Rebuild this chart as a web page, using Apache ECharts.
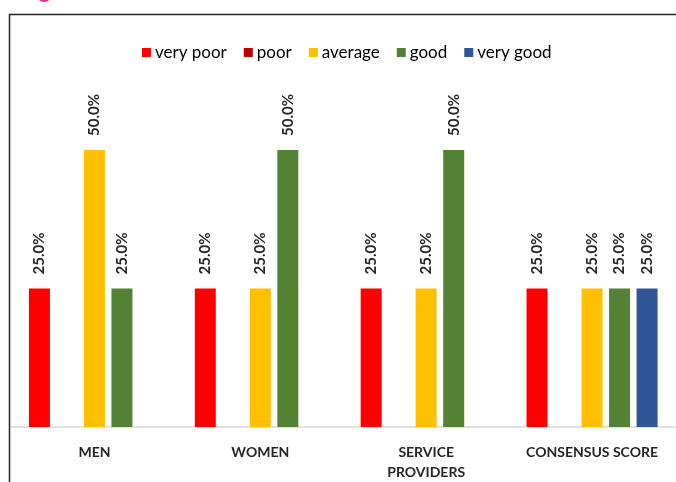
<!DOCTYPE html>
<html>
<head>
<meta charset="utf-8">
<script src="https://cdn.jsdelivr.net/npm/echarts@6/dist/echarts.min.js"></script>
<style>
html,body{margin:0;padding:0;background:#fff;}
#c{width:676px;height:482px;}
</style>
</head>
<body>
<div id="c"></div>
<script>
var categories = ['MEN', 'WOMEN', 'SERVICE\nPROVIDERS', 'CONSENSUS SCORE'];
var seriesNames = ['very poor', 'poor', 'average', 'good', 'very good'];
var veryPoor = [0.25, 0.25, 0.25, 0.25];
var poor = [0, 0, 0, 0];
var average = [0.50, 0.25, 0.25, 0.25];
var good = [0.25, 0.50, 0.50, 0.25];
var veryGood = [0, 0, 0, 0.25];
var colors = ['#FF0000', '#C00000', '#FFC000', '#548235', '#2F5597'];

var allValues = [veryPoor, poor, average, good, veryGood];
var chart = echarts.init(document.getElementById('c'), null, {renderer: 'canvas'});
var font = 'Lato, "Liberation Sans", sans-serif';
var series = seriesNames.map(function (n, i) {
  return {
    name: n,
    type: 'bar',
    data: allValues[i],
    barWidth: 21,
    barGap: '31%',
    itemStyle: {color: colors[i]},
    label: {
      show: true,
      position: 'top',
      rotate: 90,
      align: 'left',
      verticalAlign: 'middle',
      distance: 14,
      color: '#262626',
      fontSize: 15,
      fontWeight: 'bold',
      fontFamily: font,
      formatter: function (p) { return p.value > 0 ? (p.value * 100).toFixed(1) + '%' : ''; }
    }
  };
});

chart.setOption({
  animation: false,
  color: colors,
  graphic: [
    {type: 'rect', shape: {x: 9.5, y: 14.5, width: 700, height: 500}, style: {fill: null, stroke: '#262626', lineWidth: 1.5}, z: 100},
    {type: 'circle', shape: {cx: 44, cy: -6, r: 8}, style: {fill: '#E8309A'}}
  ],
  legend: {
    data: seriesNames,
    left: 137,
    top: 39,
    itemWidth: 9,
    itemHeight: 9,
    itemGap: 17,
    icon: 'rect',
    textStyle: {color: '#000', fontSize: 17, fontFamily: font, padding: [0, 0, 0, -1]}
  },
  grid: {left: 11.5, right: 1, top: 94.5, bottom: 52.5, containLabel: false},
  xAxis: {
    type: 'category',
    data: categories,
    axisLine: {lineStyle: {color: '#D9D9D9', width: 1.5}},
    axisTick: {show: false},
    axisLabel: {
      color: '#262626', fontSize: 14, fontWeight: 'bold', fontFamily: font,
      margin: 15, lineHeight: 20, interval: 0
    }
  },
  yAxis: {
    type: 'value',
    min: 0, max: 0.6,
    show: false,
    splitLine: {show: false}
  },
  series: series
});
</script>
</body>
</html>
